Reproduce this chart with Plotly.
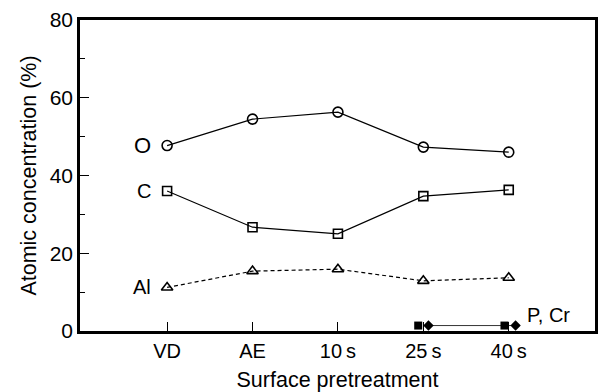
import plotly.graph_objects as go

categories = ["VD", "AE", "10\u2009s", "25\u2009s", "40\u2009s"]
x_pos = [0, 1, 2, 3, 4]
oxygen = [47.7, 54.5, 56.3, 47.3, 46.0]
carbon = [36.0, 26.7, 25.0, 34.7, 36.3]
aluminium = [11.2, 15.4, 15.9, 12.9, 13.7]
p_x = [2.94, 3.95]
p_vals = [1.4, 1.4]
cr_x = [3.06, 4.08]
cr_vals = [1.4, 1.4]

FONT = "Liberation Sans, Arial, Helvetica, sans-serif"
fig = go.Figure()

fig.add_trace(go.Scatter(x=x_pos, y=oxygen, mode="lines+markers",
    line=dict(color="black", width=1.2),
    marker=dict(symbol="circle-open", size=10, color="black", line=dict(width=1.6))))
fig.add_trace(go.Scatter(x=x_pos, y=carbon, mode="lines+markers",
    line=dict(color="black", width=1.2),
    marker=dict(symbol="square-open", size=9, color="black", line=dict(width=1.6))))
fig.add_trace(go.Scatter(x=x_pos, y=aluminium, mode="lines+markers",
    line=dict(color="black", width=1.2, dash="4px,3px"),
    marker=dict(symbol="triangle-up-open", size=10, color="black", line=dict(width=1.6))))
fig.add_trace(go.Scatter(x=cr_x, y=cr_vals, mode="lines+markers",
    line=dict(color="black", width=0.8),
    marker=dict(symbol="diamond", size=8, color="black")))
fig.add_trace(go.Scatter(x=p_x, y=p_vals, mode="markers",
    marker=dict(symbol="square", size=8, color="black")))

labels = [("O", -0.17, oxygen[0], 22), ("C", -0.17, carbon[0], 20),
          ("Al", -0.17, aluminium[0], 20)]
for t, xx, yy, fs in labels:
    fig.add_annotation(x=xx, y=yy, text=t, showarrow=False, xanchor="right",
                       yanchor="middle", font=dict(size=fs, color="black", family=FONT))
fig.add_annotation(x=4.19, y=4.2, text="P, Cr", showarrow=False, xanchor="left",
                   yanchor="middle", font=dict(size=20, color="black", family=FONT))

fig.update_layout(
    width=600, height=392, margin=dict(l=80, r=2, t=20, b=61),
    plot_bgcolor="white", paper_bgcolor="white", showlegend=False,
    font=dict(family=FONT, color="black", size=20),
    xaxis=dict(range=[-1.02, 5.01], tickvals=x_pos, ticktext=categories,
               ticks="inside", ticklen=9, tickwidth=1.2, tickcolor="black",
               showline=True, linewidth=2.5, linecolor="black", mirror=True,
               showgrid=False, zeroline=False,
               tickfont=dict(size=20), title=dict(text="Surface pretreatment",
               font=dict(size=21.5), standoff=13)),
    yaxis=dict(range=[0, 80], tickvals=[0, 20, 40, 60, 80],
               ticks="inside", ticklen=9, tickwidth=1.2, tickcolor="black",
               minor=dict(tickvals=[10, 30, 50, 70], ticks="inside", ticklen=5,
                          tickcolor="black", tickwidth=1),
               showline=True, linewidth=2.5, linecolor="black", mirror=True,
               showgrid=False, zeroline=False,
               tickfont=dict(size=21), title=dict(text="Atomic concentration (%)",
               font=dict(size=21.5), standoff=8)),
)

fig.write_html("out.html")
